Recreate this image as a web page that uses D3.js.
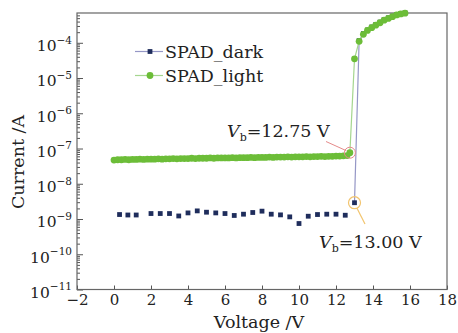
<!DOCTYPE html>
<html>
<head>
<meta charset="utf-8">
<script src="https://cdn.jsdelivr.net/npm/d3@7"></script>
<style>
body { margin: 0; background: #fff; }
svg text { font-family: "DejaVu Serif", "Liberation Serif", serif; fill: #222; }
</style>
</head>
<body>
<script>
// dark current (A) vs voltage (V)
var darkV = [0.3, 0.75, 1.2, 2, 2.5, 3, 3.5, 4, 4.5, 5, 5.5, 6, 6.5, 7, 7.5, 8, 8.5, 9, 9.5, 10, 10.5, 11, 11.5, 12, 12.5, 13,
             13.25, 13.48, 13.7, 13.93, 14.15, 14.38, 14.6, 14.83, 15.05, 15.28, 15.5, 15.73];
var darkI = [1.34e-9, 1.3e-9, 1.3e-9, 1.43e-9, 1.43e-9, 1.43e-9, 1.22e-9, 1.49e-9, 1.7e-9, 1.56e-9, 1.49e-9, 1.43e-9, 1.26e-9,
             1.37e-9, 1.53e-9, 1.67e-9, 1.37e-9, 1.31e-9, 1.15e-9, 7.45e-10, 1.2e-9, 1.34e-9, 1.37e-9, 1.37e-9, 1.28e-9, 2.9e-9,
             1.15e-4, 1.82e-4, 2.3e-4, 2.8e-4, 3.3e-4, 3.85e-4, 4.5e-4, 5.1e-4, 5.7e-4, 6.3e-4, 6.7e-4, 7.0e-4];

// photo current (A) vs voltage (V)
var lightV = [0, 0.2, 0.4, 0.6, 0.8, 1, 1.2, 1.4, 1.6, 1.8, 2, 2.2, 2.4, 2.6, 2.8, 3, 3.2, 3.4, 3.6, 3.8,
              4, 4.2, 4.4, 4.6, 4.8, 5, 5.2, 5.4, 5.6, 5.8, 6, 6.2, 6.4, 6.6, 6.8, 7, 7.2, 7.4, 7.6, 7.8,
              8, 8.2, 8.4, 8.6, 8.8, 9, 9.2, 9.4, 9.6, 9.8, 10, 10.2, 10.4, 10.6, 10.8, 11, 11.2, 11.4, 11.6, 11.8,
              12, 12.2, 12.4, 12.6, 12.75,
              13, 13.25, 13.48, 13.7, 13.93, 14.15, 14.38, 14.6, 14.83, 15.05, 15.28, 15.5, 15.73];
var lightI = [4.7e-8, 4.8e-8, 4.8e-8, 4.9e-8, 4.8e-8, 4.9e-8, 4.9e-8, 5.0e-8, 4.9e-8, 5.0e-8,
              5.0e-8, 5.0e-8, 5.1e-8, 5.0e-8, 5.1e-8, 5.1e-8, 5.2e-8, 5.1e-8, 5.2e-8, 5.2e-8,
              5.2e-8, 5.3e-8, 5.2e-8, 5.3e-8, 5.3e-8, 5.3e-8, 5.4e-8, 5.3e-8, 5.4e-8, 5.4e-8,
              5.4e-8, 5.4e-8, 5.5e-8, 5.4e-8, 5.5e-8, 5.5e-8, 5.5e-8, 5.6e-8, 5.5e-8, 5.6e-8,
              5.6e-8, 5.6e-8, 5.7e-8, 5.6e-8, 5.7e-8, 5.7e-8, 5.7e-8, 5.8e-8, 5.7e-8, 5.8e-8,
              5.8e-8, 5.8e-8, 5.9e-8, 5.8e-8, 5.9e-8, 5.9e-8, 6.0e-8, 5.9e-8, 6.0e-8, 6.0e-8,
              6.1e-8, 6.1e-8, 6.2e-8, 6.3e-8, 7.6e-8,
              3.5e-5, 1.1e-4, 1.74e-4, 2.24e-4, 2.69e-4, 3.16e-4, 3.7e-4, 4.37e-4, 4.9e-4, 5.5e-4, 6.17e-4, 6.6e-4, 6.9e-4];

var xTicks = [-2, 0, 2, 4, 6, 8, 10, 12, 14, 16, 18];
var yExp = [-11, -10, -9, -8, -7, -6, -5, -4];
var seriesNames = ["SPAD_dark", "SPAD_light"];

var margin = {left: 77, right: 447, top: 13, bottom: 289.5};

var svg = d3.select("body").append("svg")
            .attr("width", 458)
            .attr("height", 333);

var x = d3.scaleLinear().domain([-2, 18]).range([margin.left, margin.right]);
var y = d3.scaleLog().domain([1e-11, 7e-4]).range([margin.bottom, margin.top]);

// minor ticks for the log axis
var minor = [];
yExp.forEach(function(e) {
    for (var m = 2; m <= 9; m++) {
        var v = m * Math.pow(10, e);
        if (v < 7e-4) minor.push(v);
    }
});

var yMinor = svg.append("g")
    .attr("transform", "translate(" + margin.left + ",0)")
    .call(d3.axisLeft(y).tickValues(minor).tickSize(-3).tickFormat(""));

var yAxis = svg.append("g")
    .attr("transform", "translate(" + margin.left + ",0)")
    .call(d3.axisLeft(y).tickValues(yExp.map(function(e) { return Math.pow(10, e); }))
            .tickSize(-6).tickPadding(5).tickFormat(""));

yAxis.selectAll(".tick text").each(function(d, i) {
    var t = d3.select(this).attr("dy", "0.5em").attr("font-size", 15.5);
    t.append("tspan").text("10");
    t.append("tspan").attr("font-size", 10.5).attr("dy", -7.5).text("\u2212" + Math.abs(yExp[i]));
});

var xAxis = svg.append("g")
    .attr("transform", "translate(0," + margin.bottom + ")")
    .call(d3.axisBottom(x).tickValues(xTicks).tickSize(-4).tickPadding(5));

xAxis.selectAll(".tick text").attr("font-size", 15);

svg.selectAll(".domain").remove();
svg.selectAll(".tick line").attr("stroke", "#555");

svg.append("rect")
    .attr("x", margin.left).attr("y", margin.top)
    .attr("width", margin.right - margin.left).attr("height", margin.bottom - margin.top)
    .attr("fill", "none").attr("stroke", "#666").attr("stroke-width", 1.2);

// axis titles
svg.append("text")
    .attr("x", (margin.left + margin.right) / 2 - 3).attr("y", 328)
    .attr("text-anchor", "middle").attr("font-size", 17.5)
    .text("Voltage /V");

svg.append("text")
    .attr("transform", "translate(24,162) rotate(-90)")
    .attr("text-anchor", "middle").attr("font-size", 17.5)
    .text("Current /A");

var darkData = darkV.map(function(v, i) { return [v, darkI[i]]; });
var lightData = lightV.map(function(v, i) { return [v, lightI[i]]; });
var breakIdx = darkV.indexOf(13);

var line = d3.line()
    .x(function(d) { return x(d[0]); })
    .y(function(d) { return y(d[1]); });

// the dark trace line is only visible from the breakdown point upward
svg.append("path").datum(darkData.slice(breakIdx))
    .attr("d", line).attr("fill", "none")
    .attr("stroke", "#9597c6").attr("stroke-width", 1.2);

svg.selectAll(".dark").data(darkData).enter().append("rect")
    .attr("class", "dark")
    .attr("x", function(d) { return x(d[0]) - 2.4; })
    .attr("y", function(d) { return y(d[1]) - 2.4; })
    .attr("width", 4.8).attr("height", 4.8)
    .attr("fill", "#1f2d5c");

svg.append("path").datum(lightData)
    .attr("d", line).attr("fill", "none")
    .attr("stroke", "#a5d68f").attr("stroke-width", 1.2);

svg.selectAll(".light").data(lightData).enter().append("circle")
    .attr("class", "light")
    .attr("cx", function(d) { return x(d[0]); })
    .attr("cy", function(d) { return y(d[1]); })
    .attr("r", 3.4)
    .attr("fill", "#6cbd38");

// legend
var legend = svg.append("g");
seriesNames.forEach(function(name, i) {
    var ly = 51.5 + i * 24;
    legend.append("line")
        .attr("x1", 135).attr("x2", 163).attr("y1", ly).attr("y2", ly)
        .attr("stroke", i == 0 ? "#9597c6" : "#a5d68f").attr("stroke-width", 1.2);
    if (i == 0) {
        legend.append("rect").attr("x", 147.6).attr("y", ly - 2.4)
            .attr("width", 4.8).attr("height", 4.8).attr("fill", "#1f2d5c");
    } else {
        legend.append("circle").attr("cx", 150).attr("cy", ly).attr("r", 3.4).attr("fill", "#6cbd38");
    }
    legend.append("text")
        .attr("x", 165).attr("y", ly + 6)
        .attr("font-size", 17.5)
        .text(name);
});

// breakdown annotations
var pLight = lightData[lightV.indexOf(12.75)], pDark = darkData[breakIdx];

svg.append("line")
    .attr("x1", 326).attr("y1", 141.5)
    .attr("x2", x(pLight[0]) - 3.5).attr("y2", y(pLight[1]) - 2)
    .attr("stroke", "#e58a8a").attr("stroke-width", 1);
svg.append("circle")
    .attr("cx", x(pLight[0])).attr("cy", y(pLight[1])).attr("r", 5.5)
    .attr("fill", "none").attr("stroke", "#e58a8a").attr("stroke-width", 1);

svg.append("circle")
    .attr("cx", x(pDark[0])).attr("cy", y(pDark[1])).attr("r", 6)
    .attr("fill", "none").attr("stroke", "#f2c46e").attr("stroke-width", 1.2);
svg.append("line")
    .attr("x1", x(pDark[0]) + 2.5).attr("y1", y(pDark[1]) + 5.5)
    .attr("x2", 365).attr("y2", 224)
    .attr("stroke", "#f2c46e").attr("stroke-width", 1.2);

function vbLabel(xp, yp, val) {
    var t = svg.append("text").attr("x", xp).attr("y", yp).attr("font-size", 17.5);
    t.append("tspan").attr("font-style", "italic").text("V");
    t.append("tspan").attr("font-size", 11).attr("dy", 4).text("b");
    t.append("tspan").attr("dy", -4).text("=" + val + " V");
}
vbLabel(227, 137, "12.75");
vbLabel(319, 248, "13.00");
</script>
</body>
</html>
